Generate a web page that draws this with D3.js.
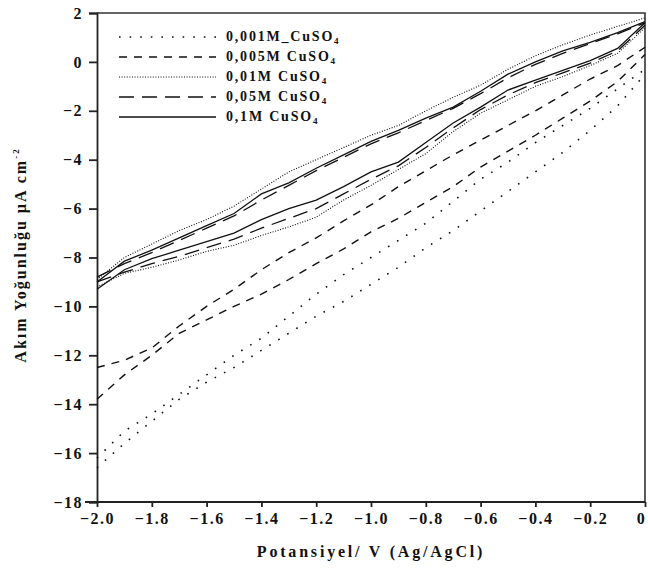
<!DOCTYPE html>
<html>
<head>
<meta charset="utf-8">
<script src="https://cdn.jsdelivr.net/npm/d3@7"></script>
<style>
  body { margin: 0; background: #fff; }
  svg { display: block; }
  text { font-family: "Liberation Serif", "DejaVu Serif", serif; fill: #111; }
</style>
</head>
<body>
<div id="chart"></div>
<script>
const width = 648;
const height = 576;

// Potansiyel ekseni (V)
const potential = [-2.0, -1.9, -1.8, -1.7, -1.6, -1.5, -1.4, -1.3, -1.2, -1.1, -1.0,
                   -0.9, -0.8, -0.7, -0.6, -0.5, -0.4, -0.3, -0.2, -0.1, 0.0];

// Katodik tarama (alt kol) ve anodik dönüş (üst kol), µA cm-2
const c0001Down = [-16.6, -15.6, -14.7, -13.8, -13.1, -12.5, -11.8, -11.1, -10.4, -9.8, -9.1,
                   -8.4, -7.6, -6.9, -6.1, -5.3, -4.5, -3.7, -2.8, -1.8, -0.5];
const c0001Up   = [-16.2, -15.1, -14.4, -13.6, -12.8, -12.0, -11.3, -10.4, -9.5, -8.7, -8.0,
                   -7.3, -6.6, -5.7, -4.8, -4.1, -3.3, -2.6, -1.9, -1.1, -0.3];
const c0005Down = [-13.8, -12.8, -12.0, -11.1, -10.55, -10.0, -9.5, -8.9, -8.25, -7.65, -6.95,
                   -6.4, -5.75, -5.1, -4.3, -3.65, -3.0, -2.3, -1.6, -0.8, 0.3];
const c0005Up   = [-12.5, -12.2, -11.7, -10.8, -10.0, -9.3, -8.5, -7.8, -7.2, -6.5, -5.85,
                   -5.1, -4.45, -3.8, -3.2, -2.6, -2.0, -1.35, -0.7, -0.15, 0.6];
const c001Down  = [-9.2, -8.65, -8.4, -8.1, -7.75, -7.5, -7.1, -6.75, -6.35, -5.65, -5.05,
                   -4.4, -3.75, -2.85, -2.1, -1.55, -1.0, -0.6, -0.15, 0.35, 1.4];
const c001Up    = [-8.9, -8.0, -7.45, -6.9, -6.45, -5.9, -5.2, -4.5, -4.0, -3.5, -3.0,
                   -2.6, -2.0, -1.45, -0.95, -0.3, 0.25, 0.7, 1.1, 1.45, 1.8];
const c005Down  = [-9.0, -8.6, -8.25, -7.95, -7.6, -7.25, -6.8, -6.4, -6.0, -5.4, -4.8,
                   -4.25, -3.5, -2.7, -1.95, -1.35, -0.85, -0.45, -0.05, 0.45, 1.5];
const c005Up    = [-8.8, -8.25, -7.8, -7.3, -6.8, -6.3, -5.65, -5.05, -4.45, -3.9, -3.35,
                   -2.9, -2.4, -1.9, -1.3, -0.65, -0.1, 0.35, 0.75, 1.15, 1.6];
const c01Down   = [-9.3, -8.5, -8.05, -7.7, -7.35, -7.0, -6.45, -6.0, -5.65, -5.1, -4.5,
                   -4.1, -3.3, -2.5, -1.85, -1.15, -0.75, -0.35, 0.05, 0.55, 1.6];
const c01Up     = [-9.0, -8.15, -7.7, -7.2, -6.7, -6.2, -5.4, -4.95, -4.35, -3.8, -3.25,
                   -2.8, -2.3, -1.85, -1.2, -0.5, 0.0, 0.45, 0.8, 1.2, 1.65];

const seriesNames = ["0,001M_CuSO", "0,005M CuSO", "0,01M CuSO", "0,05M CuSO", "0,1M CuSO"];
const xTicks = [-2.0, -1.8, -1.6, -1.4, -1.2, -1.0, -0.8, -0.6, -0.4, -0.2, 0];
const yTicks = [2, 0, -2, -4, -6, -8, -10, -12, -14, -16, -18];

const series = [
  { name: seriesNames[0], down: c0001Down, up: c0001Up, dash: "1.6,9", w: 1.6 },
  { name: seriesNames[1], down: c0005Down, up: c0005Up, dash: "8,7", w: 1.4 },
  { name: seriesNames[2], down: c001Down, up: c001Up, dash: "1,1.6", w: 1.1 },
  { name: seriesNames[3], down: c005Down, up: c005Up, dash: "15,8", w: 1.3 },
  { name: seriesNames[4], down: c01Down, up: c01Up, dash: null, w: 1.3 }
];

const margin = { top: 13, right: 3, bottom: 74, left: 97 };

const svg = d3.select("#chart")
  .append("svg")
  .attr("width", width)
  .attr("height", height);

const x = d3.scaleLinear().domain([-2, 0]).range([margin.left, width - margin.right]);
const y = d3.scaleLinear().domain([-18, 2]).range([height - margin.bottom, margin.top]);

// Çerçeve (üst ve sağ)
svg.append("path")
  .attr("d", `M${x(-2)},${y(2)}H${x(0)}V${y(-18)}`)
  .attr("fill", "none")
  .attr("stroke", "#333")
  .attr("stroke-width", 1.6);

// Eksenler
const xAxis = svg.append("g")
  .attr("transform", `translate(0,${y(-18)})`)
  .call(d3.axisBottom(x).tickValues(xTicks)
    .tickFormat(d => d === 0 ? "0" : d3.format(".1f")(d))
    .tickSize(5).tickPadding(6));

const yAxis = svg.append("g")
  .attr("transform", `translate(${x(-2)},0)`)
  .call(d3.axisLeft(y).tickValues(yTicks).tickFormat(d3.format("d"))
    .tickSize(8).tickPadding(6));

[xAxis, yAxis].forEach(g => {
  g.select(".domain").attr("stroke", "#222").attr("stroke-width", 1.8);
  g.selectAll(".tick line").attr("stroke", "#222").attr("stroke-width", 1.8);
  g.selectAll(".tick text")
    .style("font-family", "'Liberation Serif', serif")
    .style("font-size", "16px")
    .style("font-weight", "bold")
    .style("letter-spacing", "1.5px")
    .attr("fill", "#111");
});
xAxis.select(".domain").attr("d", `M${x(-2) - 12},0H${x(0)}`);
// sağ kenardaki "0" etiketi sayfa dışına taşmasın
xAxis.selectAll(".tick text").filter(d => d === 0).attr("dx", -4);

// Eğriler: katodik kol ve dönüş kolu ayrı çizilir
const line = d3.line()
  .x(d => x(d[0]))
  .y(d => y(d[1]));

series.forEach(s => {
  [s.down, s.up].forEach(branch => {
    svg.append("path")
      .datum(potential.map((p, i) => [p, branch[i]]))
      .attr("fill", "none")
      .attr("stroke", "#111")
      .attr("stroke-width", s.w)
      .attr("stroke-dasharray", s.dash)
      .attr("d", line);
  });
});

// Lejant
const legend = svg.append("g");
series.forEach((s, i) => {
  const ly = 37 + i * 20;
  legend.append("line")
    .attr("x1", 119).attr("x2", 216)
    .attr("y1", ly).attr("y2", ly)
    .attr("stroke", "#111")
    .attr("stroke-width", s.w)
    .attr("stroke-dasharray", s.dash);
  const t = legend.append("text")
    .attr("x", 226).attr("y", ly + 4)
    .style("font-size", "14px")
    .style("font-weight", "bold")
    .style("letter-spacing", "1.8px");
  t.append("tspan").text(s.name);
  t.append("tspan").attr("dy", 3).style("font-size", "9px").text("4");
});

// Eksen başlıkları
svg.append("text")
  .attr("x", 371).attr("y", 557)
  .attr("text-anchor", "middle")
  .style("font-size", "16px")
  .style("font-weight", "bold")
  .style("letter-spacing", "2.8px")
  .text("Potansiyel/ V (Ag/AgCl)");

const yt = svg.append("text")
  .attr("transform", "translate(26,255) rotate(-90)")
  .attr("text-anchor", "middle")
  .style("font-size", "16px")
  .style("font-weight", "bold")
  .style("letter-spacing", "2px");
yt.append("tspan").text("Akım Yoğunluğu µA cm");
yt.append("tspan").attr("dy", -7).style("font-size", "9px").text("-2");
</script>
</body>
</html>
